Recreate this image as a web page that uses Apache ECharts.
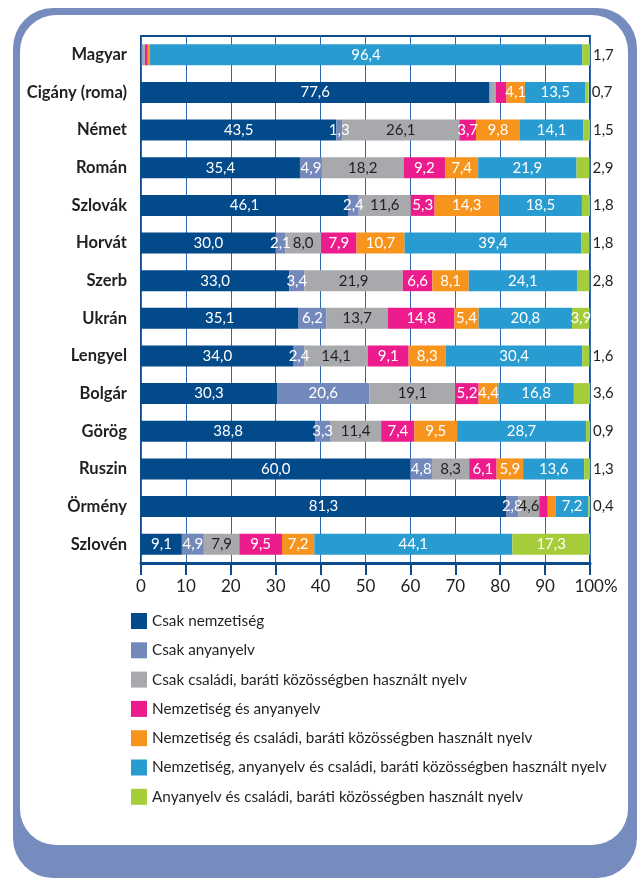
<!DOCTYPE html>
<html>
<head>
<meta charset="utf-8">
<script src="https://cdn.jsdelivr.net/npm/echarts@6/dist/echarts.min.js"></script>
<style>
html,body{margin:0;padding:0;background:#fff;}
#chart{width:638px;height:878px;}
</style>
</head>
<body>
<div id="chart"></div>
<script>
var categories = ['Magyar','Cigány (roma)','Német','Román','Szlovák','Horvát','Szerb','Ukrán','Lengyel','Bolgár','Görög','Ruszin','Örmény','Szlovén'];

var seriesNames = [
  'Csak nemzetiség',
  'Csak anyanyelv',
  'Csak családi, baráti közösségben használt nyelv',
  'Nemzetiség és anyanyelv',
  'Nemzetiség és családi, baráti közösségben használt nyelv',
  'Nemzetiség, anyanyelv és családi, baráti közösségben használt nyelv',
  'Anyanyelv és családi, baráti közösségben használt nyelv'
];

var csakNemzetiseg   = [0.1, 77.6, 43.5, 35.4, 46.1, 30.0, 33.0, 35.1, 34.0, 30.3, 38.8, 60.0, 81.3, 9.1];
var csakAnyanyelv    = [0.3, 0.3, 1.3, 4.9, 2.4, 2.1, 3.4, 6.2, 2.4, 20.6, 3.3, 4.8, 2.8, 4.9];
var csakCsaladi      = [0.5, 1.1, 26.1, 18.2, 11.6, 8.0, 21.9, 13.7, 14.1, 19.1, 11.4, 8.3, 4.6, 7.9];
var nemzAnyanyelv    = [0.6, 2.4, 3.7, 9.2, 5.3, 7.9, 6.6, 14.8, 9.1, 5.2, 7.4, 6.1, 1.9, 9.5];
var nemzCsaladi      = [0.4, 4.1, 9.8, 7.4, 14.3, 10.7, 8.1, 5.4, 8.3, 4.4, 9.5, 5.9, 1.8, 7.2];
var nemzAnyaCsaladi  = [96.4, 13.5, 14.1, 21.9, 18.5, 39.4, 24.1, 20.8, 30.4, 16.8, 28.7, 13.6, 7.2, 44.1];
var anyaCsaladi      = [1.7, 0.7, 1.5, 2.9, 1.8, 1.8, 2.8, 3.9, 1.6, 3.6, 0.9, 1.3, 0.4, 17.3];

var xTicks = [0,10,20,30,40,50,60,70,80,90,100];

// segments without a printed value: [category index, series index]
var unlabeled = [[0,0],[0,1],[0,2],[0,3],[0,4],[1,1],[1,2],[1,3],[12,3],[12,4]];
// green segments whose value is printed inside the bar
var insideGreen = [7, 13];

var colors = ['#034a8b','#7489bb','#a7a9ac','#ec1c8c','#f7941d','#289bd0','#a5cd39'];
var allValues = [csakNemzetiseg, csakAnyanyelv, csakCsaladi, nemzAnyanyelv, nemzCsaladi, nemzAnyaCsaladi, anyaCsaladi];

var FONT = 'Lato, Roboto, sans-serif';
function fmt(v){ return v.toFixed(1).replace('.', ','); }
function isHidden(r, s){
  for (var i=0;i<unlabeled.length;i++) if (unlabeled[i][0]===r && unlabeled[i][1]===s) return true;
  return false;
}

var series = allValues.map(function(vals, s){
  var last = (s === allValues.length - 1);
  var data = vals.map(function(v, r){
    var item = { value: v };
    if (isHidden(r, s)) item.label = { show: false };
    if (last && insideGreen.indexOf(r) >= 0) item.label = { show: true, position: 'inside', color: '#ffffff', distance: 0 };
    return item;
  });
  return {
    name: seriesNames[s],
    type: 'bar',
    stack: 'total',
    barWidth: 21,
    itemStyle: { color: colors[s] },
    label: {
      show: true,
      position: last ? 'right' : 'inside',
      distance: 3,
      color: last ? '#231f20' : (s === 2 ? '#231f20' : '#ffffff'),
      fontFamily: FONT,
      fontSize: 15,
      formatter: function(p){ return fmt(p.value); }
    },
    data: data
  };
});

var chart = echarts.init(document.getElementById('chart'), null, {renderer:'canvas'});
chart.setOption({
  animation: false,
  color: colors,
  graphic: [
    { type: 'rect', z: -10, shape: { x: 13, y: 8, width: 624, height: 870, r: 40 }, style: { fill: '#778cbe' } },
    { type: 'rect', z: -9, shape: { x: 20, y: 15, width: 608, height: 830, r: 36 }, style: { fill: '#ffffff' } }
  ],
  grid: { left: 141, right: 48, top: 36, bottom: 315, show: true, borderColor: '#0b4a8b', borderWidth: 2, backgroundColor: 'transparent' },
  legend: {
    orient: 'vertical',
    left: 131, top: 613,
    itemWidth: 16, itemHeight: 16, itemGap: 13.3,
    icon: 'rect',
    padding: 0,
    selectedMode: false,
    textStyle: { fontFamily: FONT, fontSize: 15.3, lineHeight: 16, color: '#231f20' },
    data: seriesNames
  },
  xAxis: {
    type: 'value', min: 0, max: 100, interval: 10,
    axisLine: { show: true, lineStyle: { color: '#0b4a8b', width: 3 } },
    axisTick: { show: true, length: 12, lineStyle: { color: '#0b4a8b', width: 2 } },
    splitLine: { show: true, lineStyle: { color: '#2d67b0', width: 1 } },
    axisLabel: {
      margin: 15,
      fontFamily: FONT, fontSize: 17, color: '#231f20',
      formatter: function(v){ return v === 100 ? '{s|}100%' : String(v); },
      rich: { s: { width: 12 } }
    }
  },
  yAxis: {
    type: 'category', inverse: true, data: categories,
    axisLine: { show: false }, axisTick: { show: false },
    axisLabel: { margin: 14, fontFamily: FONT, fontSize: 16.5, fontWeight: 'bold', color: '#231f20' }
  },
  series: series
});
</script>
</body>
</html>
